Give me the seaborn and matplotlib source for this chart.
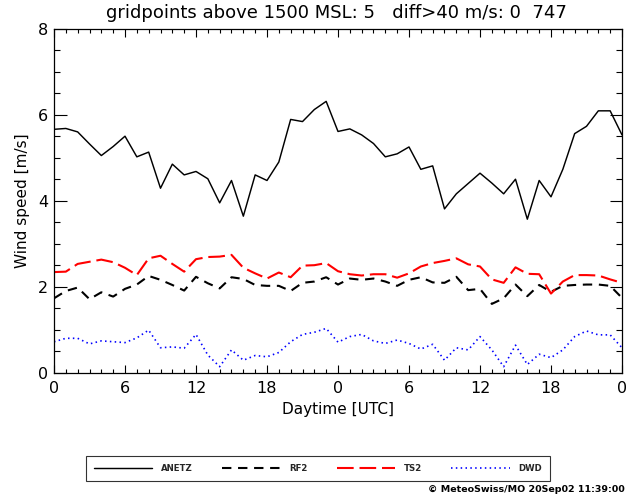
import numpy as np
import pandas as pd
import matplotlib
matplotlib.use("Agg")
import matplotlib.pyplot as plt
import seaborn as sns

# Hourly wind speed over two days (hours 0..48)
hours = list(range(49))

anetz = [5.66, 5.68, 5.60, 5.32, 5.05, 5.26, 5.50, 5.02, 5.13, 4.29,
         4.85, 4.60, 4.68, 4.51, 3.95, 4.47, 3.64, 4.60, 4.47, 4.90,
         5.89, 5.84, 6.12, 6.31, 5.61, 5.67, 5.53, 5.33, 5.02, 5.09,
         5.25, 4.73, 4.81, 3.81, 4.16, 4.40, 4.64, 4.41, 4.16, 4.50,
         3.57, 4.47, 4.09, 4.73, 5.56, 5.73, 6.09, 6.09, 5.53]

rf2 = [1.73, 1.90, 1.98, 1.71, 1.87, 1.77, 1.95, 2.05, 2.25, 2.16,
       2.04, 1.91, 2.23, 2.08, 1.96, 2.22, 2.18, 2.04, 2.02, 2.02,
       1.90, 2.09, 2.12, 2.22, 2.05, 2.19, 2.16, 2.19, 2.12, 2.02,
       2.16, 2.22, 2.10, 2.09, 2.23, 1.92, 1.95, 1.60, 1.73, 2.05,
       1.78, 2.04, 1.88, 2.02, 2.04, 2.05, 2.05, 2.02, 1.74]

ts2 = [2.34, 2.35, 2.53, 2.58, 2.63, 2.57, 2.44, 2.27, 2.66, 2.72,
       2.53, 2.35, 2.64, 2.69, 2.70, 2.74, 2.44, 2.31, 2.19, 2.33,
       2.22, 2.49, 2.50, 2.55, 2.36, 2.29, 2.26, 2.29, 2.29, 2.21,
       2.31, 2.47, 2.55, 2.60, 2.66, 2.52, 2.47, 2.17, 2.09, 2.45,
       2.30, 2.29, 1.84, 2.12, 2.27, 2.27, 2.26, 2.17, 2.09]

dwd = [0.72, 0.80, 0.80, 0.67, 0.74, 0.72, 0.70, 0.81, 0.99, 0.58,
       0.60, 0.57, 0.89, 0.41, 0.14, 0.53, 0.29, 0.40, 0.37, 0.47,
       0.72, 0.89, 0.94, 1.03, 0.71, 0.84, 0.89, 0.74, 0.68, 0.76,
       0.68, 0.55, 0.66, 0.29, 0.58, 0.53, 0.84, 0.53, 0.14, 0.64,
       0.19, 0.43, 0.35, 0.53, 0.84, 0.97, 0.88, 0.88, 0.58]

series_names = ["ANETZ", "RF2", "TS2", "DWD"]
xtick_pos = [0, 6, 12, 18, 24, 30, 36, 42, 48]
xtick_labels = ["0", "6", "12", "18", "0", "6", "12", "18", "0"]

title_text = "gridpoints above 1500 MSL: 5   diff>40 m/s: 0  747"
credit_text = "\u00a9 MeteoSwiss/MO 20Sep02 11:39:00"

df = pd.DataFrame({"hour": hours, "ANETZ": anetz, "RF2": rf2,
                   "TS2": ts2, "DWD": dwd})
long = df.melt(id_vars="hour", var_name="model", value_name="speed")

sns.set_theme(style="ticks")
plt.rcParams["font.family"] = ["DejaVu Sans"]

W, H = 631, 501
fig = plt.figure(figsize=(W / 100, H / 100), dpi=100)
fig.patch.set_facecolor("white")

left, right, top, bottom = 54, 622, 28.7, 372.7
ax = fig.add_axes([left / W, 1 - bottom / H, (right - left) / W, (bottom - top) / H])
ax.set_facecolor("white")

styles = {
    "ANETZ": dict(color="black", lw=1.05, dashes=None),
    "RF2": dict(color="black", lw=1.5, dashes=(4.5, 3.2)),
    "TS2": dict(color="#ff0000", lw=1.5, dashes=(8, 2.8)),
    "DWD": dict(color="#0000ff", lw=1.2, dashes=(0.9, 2.0)),
}

handles = []
for name in series_names:
    st = styles[name]
    sub = long[long["model"] == name]
    sns.lineplot(data=sub, x="hour", y="speed", ax=ax, color=st["color"],
                 lw=st["lw"], legend=False)
    line = ax.get_lines()[-1]
    if st["dashes"] is not None:
        line.set_dashes(st["dashes"])
    line.set_label(name)
    handles.append(line)

ax.set_xlim(0, 48)
ax.set_ylim(0, 8)
ax.set_xticks(xtick_pos)
ax.set_xticklabels(xtick_labels)
ax.set_xticks(range(0, 49), minor=True)
ax.set_yticks([0, 2, 4, 6, 8])
ax.set_yticks(np.arange(0, 8.01, 0.5), minor=True)

ax.tick_params(axis="both", which="both", direction="in", top=True,
               right=True, colors="black", labelsize=11.5, width=0.8)
ax.tick_params(axis="x", which="major", length=5.5, pad=6)
ax.tick_params(axis="x", which="minor", length=3)
ax.tick_params(axis="y", which="major", length=9, pad=4)
ax.tick_params(axis="y", which="minor", length=4.5)
for sp in ax.spines.values():
    sp.set_visible(True)
    sp.set_color("black")
    sp.set_linewidth(0.9)

ax.set_xlabel("Daytime [UTC]", fontsize=11, labelpad=4, color="black")
ax.set_ylabel("Wind speed [m/s]", fontsize=11, labelpad=6, color="black")

fig.text(336 / W, 1 - 13 / H, title_text, ha="center", va="center",
         fontsize=13, color="black")

leg = fig.legend(handles=handles, labels=series_names, ncol=4,
                 loc="center", bbox_to_anchor=(318 / W, 1 - 468.5 / H),
                 prop={"weight": "bold", "size": 6.2},
                 frameon=True, fancybox=False, handlelength=6.8,
                 handletextpad=1.0, columnspacing=3.4, borderpad=0.9)
frame = leg.get_frame()
frame.set_edgecolor("black")
frame.set_linewidth(0.8)
frame.set_facecolor("white")

fig.text(625 / W, 1 - 490 / H, credit_text, ha="right", va="center",
         fontsize=6.8, fontweight="bold", color="black")

fig.savefig("out.png", dpi=100, facecolor="white")
